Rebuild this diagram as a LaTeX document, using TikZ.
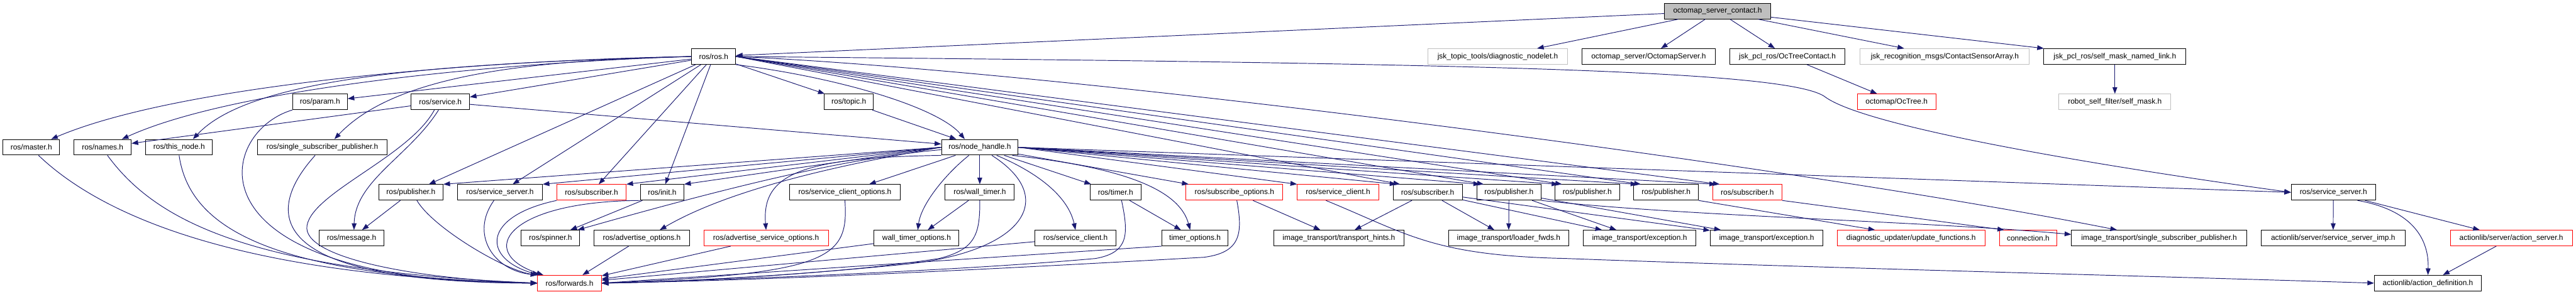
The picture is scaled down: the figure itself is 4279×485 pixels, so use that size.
\documentclass[tikz,border=0pt]{standalone}
\usepackage{fontspec}
\setmainfont{Liberation Sans}
\usetikzlibrary{arrows.meta}
\definecolor{edgeblue}{RGB}{25,25,112}
\definecolor{docgray}{RGB}{191,191,191}
\newcommand{\dxfont}{\fontsize{12.5}{14}\selectfont}

\begin{document}
\begin{tikzpicture}[x=1pt, y=-1pt,
        incbox/.style={draw=black, fill=white, line width=1pt, minimum height=26,
                       inner sep=0pt, font=\dxfont},
        trunc/.style={incbox, draw=red},
        undoc/.style={incbox, draw=docgray},
        focus/.style={incbox, fill=docgray},
        dep/.style={draw=edgeblue, line width=1pt, -{Triangle[length=11pt,width=8pt]}}
      ]
        \useasboundingbox (0,0) rectangle (4279,485);

        % row 1 and 2
        \node[focus, minimum width=176] (main) at (2853,18.5) {octomap\_server\_contact.h};
        \node[incbox, minimum width=73] (rosh) at (1185.5,94) {ros/ros.h};
        \node[undoc, minimum width=232] (diag) at (2488,94) {jsk\_topic\_tools/diagnostic\_nodelet.h};
        \node[incbox, minimum width=221] (omserver) at (2738.5,94) {octomap\_server/OctomapServer.h};
        \node[incbox, minimum width=192] (octc) at (2969,94) {jsk\_pcl\_ros/OcTreeContact.h};
        \node[undoc, minimum width=281] (csa) at (3230.5,94) {jsk\_recognition\_msgs/ContactSensorArray.h};
        \node[incbox, minimum width=236] (smnl) at (3513,94) {jsk\_pcl\_ros/self\_mask\_named\_link.h};

        % row 3
        \node[incbox, minimum width=91] (param) at (531.5,169.5) {ros/param.h};
        \node[incbox, minimum width=97] (service) at (731.5,169.5) {ros/service.h};
        \node[incbox, minimum width=82] (topic) at (1410,169.5) {ros/topic.h};
        \node[trunc, minimum width=131] (octree) at (3150.5,169.5) {octomap/OcTree.h};
        \node[undoc, minimum width=186] (selfmask) at (3513,169.5) {robot\_self\_filter/self\_mask.h};

        % row 4
        \node[incbox, minimum width=94] (master) at (52,245) {ros/master.h};
        \node[incbox, minimum width=95] (names) at (170.5,245) {ros/names.h};
        \node[incbox, minimum width=111] (thisnode) at (297.5,245) {ros/this\_node.h};
        \node[incbox, minimum width=215] (ssp) at (535.5,245) {ros/single\_subscriber\_publisher.h};
        \node[incbox, minimum width=127] (nh) at (1627.5,245) {ros/node\_handle.h};

        % row 5
        \node[incbox, minimum width=107] (pub1) at (682.5,320) {ros/publisher.h};
        \node[incbox, minimum width=141] (ss1) at (830.5,320) {ros/service\_server.h};
        \node[trunc, minimum width=115] (sub1) at (982.5,320) {ros/subscriber.h};
        \node[incbox, minimum width=72] (init) at (1100,320) {ros/init.h};
        \node[incbox, minimum width=183] (sco) at (1403.5,320) {ros/service\_client\_options.h};
        \node[incbox, minimum width=115] (wt) at (1627.5,320) {ros/wall\_timer.h};
        \node[incbox, minimum width=84] (timer) at (1853,320) {ros/timer.h};
        \node[trunc, minimum width=161] (subopt) at (2050.5,320) {ros/subscribe\_options.h};
        \node[trunc, minimum width=135] (sc1) at (2222.5,320) {ros/service\_client.h};
        \node[incbox, minimum width=115] (sub2) at (2371.5,320) {ros/subscriber.h};
        \node[incbox, minimum width=107] (pub2) at (2506.5,320) {ros/publisher.h};
        \node[incbox, minimum width=107] (pub3) at (2636.5,320) {ros/publisher.h};
        \node[incbox, minimum width=107] (pub4) at (2767.5,320) {ros/publisher.h};
        \node[trunc, minimum width=115] (sub3) at (2902.5,320) {ros/subscriber.h};
        \node[incbox, minimum width=140] (ss2) at (3876,320) {ros/service\_server.h};

        % row 6
        \node[incbox, minimum width=108] (message) at (584,396) {ros/message.h};
        \node[incbox, minimum width=97] (spinner) at (914.5,396) {ros/spinner.h};
        \node[incbox, minimum width=158] (advopt) at (1066,396) {ros/advertise\_options.h};
        \node[trunc, minimum width=207] (advsopt) at (1272.5,396) {ros/advertise\_service\_options.h};
        \node[incbox, minimum width=141] (wto) at (1522.5,396) {wall\_timer\_options.h};
        \node[incbox, minimum width=135] (sc2) at (1786.5,396) {ros/service\_client.h};
        \node[incbox, minimum width=110] (tmopt) at (1985,396) {timer\_options.h};
        \node[incbox, minimum width=216] (th) at (2224,396) {image\_transport/transport\_hints.h};
        \node[incbox, minimum width=200] (lf) at (2506,396) {image\_transport/loader\_fwds.h};
        \node[incbox, minimum width=187] (exc1) at (2723.5,396) {image\_transport/exception.h};
        \node[incbox, minimum width=187] (exc2) at (2934.5,396) {image\_transport/exception.h};
        \node[trunc, minimum width=245] (duf) at (3174.5,396) {diagnostic\_updater/update\_functions.h};
        \node[trunc, minimum width=96] (conn) at (3369,396) {connection.h};
        \node[incbox, minimum width=291] (itssp) at (3586.5,396) {image\_transport/single\_subscriber\_publisher.h};
        \node[incbox, minimum width=239] (ssimp) at (3875.5,396) {actionlib/server/service\_server\_imp.h};
        \node[trunc, minimum width=203] (actsrv) at (4171.5,396) {actionlib/server/action\_server.h};

        % row 7
        \node[trunc, minimum width=106] (fwd) at (946,471) {ros/forwards.h};
        \node[incbox, minimum width=178] (ad) at (4033,471) {actionlib/action\_definition.h};

        % top file
        \draw[dep] (main) -- (rosh);
        \draw[dep] (main) -- (diag);
        \draw[dep] (main) -- (omserver);
        \draw[dep] (main) -- (octc);
        \draw[dep] (main) -- (csa);
        \draw[dep] (main) -- (smnl);
        \draw[dep] (octc) -- (octree);
        \draw[dep] (smnl) -- (selfmask);

        % ros/ros.h
        \draw[dep] (rosh.west) .. controls (800,100) and (300,140) .. ([xshift=33]master.north);
        \draw[dep] (rosh.west) .. controls (800,105) and (380,150) .. ([xshift=32]names.north);
        \draw[dep] (rosh.west) .. controls (750,105) and (420,125) .. ([xshift=23]thisnode.north);
        \draw[dep] (rosh.west) .. controls (900,100) and (660,120) .. ([xshift=20]ssp.north);
        \draw[dep] (rosh) -- (param);
        \draw[dep] (rosh) -- (service);
        \draw[dep] (rosh) -- (topic);
        \draw[dep] (rosh.south east) .. controls (1400,130) and (1560,180) .. ([xshift=-25]nh.north);
        \draw[dep] (rosh) -- (pub1);
        \draw[dep] (rosh) -- (ss1);
        \draw[dep] (rosh) -- (sub1);
        \draw[dep] (rosh) -- (init);
        \draw[dep] (rosh.east) -- ([xshift=12]sub2.north west);
        \draw[dep] (rosh.east) -- ([xshift=12]pub2.north west);
        \draw[dep] (rosh.east) -- ([xshift=12]pub3.north west);
        \draw[dep] (rosh.east) -- ([xshift=12]pub4.north west);
        \draw[dep] (rosh.east) -- ([xshift=12]sub3.north west);
        \draw[dep] (rosh.east) .. controls (2400,105) and (2960,115) .. (3030,160)
                   .. controls (3100,215) and (3550,285) .. (ss2.west);
        \draw[dep] (rosh.east) .. controls (1800,120) and (3000,280) .. ([xshift=-70]itssp.north);

        % ros/service.h
        \draw[dep] (service) -- (names);
        \draw[dep] (service) -- (nh);
        \draw[dep] ([xshift=-3]service.south) .. controls (680,260) and (590,300) .. ([xshift=4]message.north);
        \draw[dep] ([xshift=-10]service.south) .. controls (680,260) and (520,320) .. (510,375)
                   .. controls (500,430) and (700,465) .. (fwd.west);

        % left side into ros/forwards.h
        \draw[dep] (param.south west) .. controls (360,220) and (300,470) .. (fwd.west);
        \draw[dep] ([xshift=-12]ssp.south) .. controls (450,340) and (410,470) .. (fwd.west);
        \draw[dep] ([xshift=12]master.south) .. controls (170,360) and (400,460) .. (fwd.west);
        \draw[dep] ([xshift=8]names.south) .. controls (260,370) and (420,450) .. (fwd.west);
        \draw[dep] (thisnode.south) .. controls (315,380) and (450,460) .. (fwd.west);
        \draw[dep] (pub1) -- (message);
        \draw[dep] ([xshift=10]pub1.south) .. controls (720,380) and (840,450) .. (fwd.north west);
        \draw[dep] ([xshift=-10]ss1.south) .. controls (780,390) and (820,450) .. (fwd.north west);
        \draw[dep] (sub1.south west) .. controls (800,360) and (800,430) .. ([xshift=3]fwd.north west);
        \draw[dep] (init.south west) .. controls (840,335) and (790,420) .. ([xshift=10]fwd.north west);
        \draw[dep] (init) -- (spinner);

        % ros/node_handle.h
        \draw[dep] (topic) -- (nh);
        \draw[dep] (nh.west) -- (pub1.north east);
        \draw[dep] (nh.west) -- (ss1.north east);
        \draw[dep] (nh.west) -- (sub1.north east);
        \draw[dep] (nh.west) -- (init.north east);
        \draw[dep] ([yshift=-4pt]nh.west) .. controls (1420,262) and (1250,300) .. ([xshift=-4]spinner.north east);
        \draw[dep] (nh.west) .. controls (1420,270) and (1220,310) .. ([xshift=30]advopt.north);
        \draw[dep] (nh.south west) .. controls (1330,262) and (1265,290) .. (advsopt.north);
        \draw[dep] (nh) -- (sco);
        \draw[dep] ([xshift=-18]nh.south) .. controls (1570,290) and (1530,340) .. ([xshift=2]wto.north);
        \draw[dep] (nh) -- (wt);
        \draw[dep] ([xshift=20]nh.south) .. controls (1760,330) and (1700,420) .. (1500,440)
                   .. controls (1300,460) and (1100,470) .. (fwd.east);
        \draw[dep] ([xshift=28]nh.south) .. controls (1730,290) and (1775,330) .. (sc2.north);
        \draw[dep] (nh) -- (timer);
        \draw[dep] ([xshift=-10]nh.south east) .. controls (1880,280) and (1960,320) .. ([xshift=-8]tmopt.north);
        \draw[dep] (nh) -- (subopt);
        \draw[dep] (nh.east) -- (sc1.north west);
        \draw[dep] (nh.east) -- ([xshift=6]sub2.north west);
        \draw[dep] (nh.east) -- ([xshift=6]pub2.north west);
        \draw[dep] (nh.east) -- ([xshift=6]pub3.north west);
        \draw[dep] (nh.east) -- ([xshift=6]pub4.north west);
        \draw[dep] (nh.east) -- ([xshift=6]sub3.north west);
        \draw[dep] (nh.east) -- (ss2.west);

        % right side into ros/forwards.h
        \draw[dep] (advopt) -- (fwd);
        \draw[dep] (advsopt) -- (fwd);
        \draw[dep] (sco.south) .. controls (1410,430) and (1380,455) .. (fwd.east);
        \draw[dep] (wt) -- (wto);
        \draw[dep] (wt.south) .. controls (1628,390) and (1620,415) .. (1560,430)
                   .. controls (1400,455) and (1150,468) .. (fwd.east);
        \draw[dep] (wto) -- (fwd);
        \draw[dep] (sc2) -- (fwd);
        \draw[dep] (timer) -- (tmopt);
        \draw[dep] ([xshift=10]timer.south) .. controls (1875,390) and (1875,420) .. (1820,430)
                   .. controls (1600,450) and (1200,466) .. (fwd.east);
        \draw[dep] (tmopt.south west) -- (fwd.east);
        \draw[dep] ([xshift=4]subopt.south) .. controls (2065,390) and (2060,420) .. (2000,428)
                   .. controls (1700,445) and (1300,466) .. (fwd.east);
        \draw[dep] (subopt) -- (th);

        % image_transport
        \draw[dep] (sub2) -- (th);
        \draw[dep] (sub2) -- (lf);
        \draw[dep] (sub2) -- (exc1);
        \draw[dep] (sub2) -- (exc2);
        \draw[dep] (pub2) -- (lf);
        \draw[dep] (pub2) -- (exc1);
        \draw[dep] (pub2) -- (exc2);
        \draw[dep] (pub2.south east) .. controls (2800,360) and (3200,368) .. ([yshift=6pt]itssp.west);
        \draw[dep] (pub4.south east) -- ([xshift=-60]duf.north);
        \draw[dep] (sub3.south east) -- ([xshift=-40]conn.north);
        \draw[dep] ([xshift=-20]sc1.south) .. controls (2340,390) and (2380,425) .. (2600,430)
                   .. controls (3000,445) and (3600,460) .. (ad.west);

        % actionlib
        \draw[dep] (ss2) -- (ssimp);
        \draw[dep] (ss2) -- (actsrv);
        \draw[dep] ([xshift=40]ss2.south) .. controls (4010,350) and (4035,400) .. (ad.north);
        \draw[dep] (actsrv) -- (ad);
      \end{tikzpicture}
\end{document}
